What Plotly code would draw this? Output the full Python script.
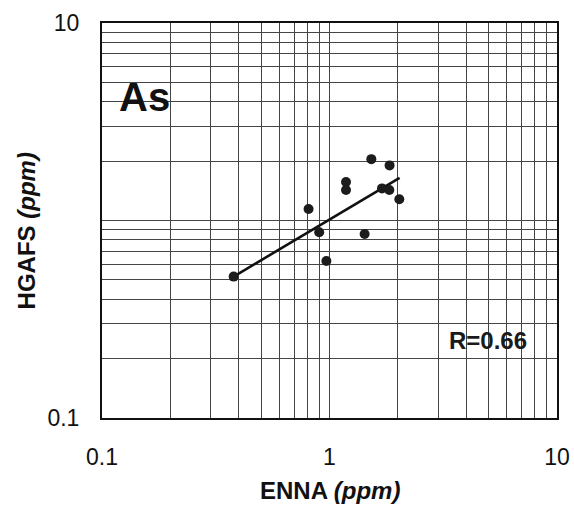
import plotly.graph_objects as go

# Arsenic: ENNA vs HGAFS concentrations (ppm)
enna = [0.379, 0.809, 0.901, 0.969, 1.182, 1.182, 1.427, 1.527, 1.837, 1.701, 1.832, 2.027]
hgafs = [0.520, 1.143, 0.872, 0.624, 1.566, 1.427, 0.855, 2.045, 1.901, 1.454, 1.427, 1.280]

# Regression line end points
fit_x = [0.379, 2.033]
fit_y = [0.520, 1.645]

element = "As"
r_label = "R=0.66"
x_title = "<b>ENNA <i>(ppm)</i></b>"
y_title = "<b>HGAFS <i>(ppm)</i></b>"

# Log grid: 1..9 in each decade
grid_vals = [m * 10 ** e for e in (-1, 0) for m in range(1, 10)] + [10]
x_labels = {0.1: "0.1", 1: "1", 10: "10"}
y_labels = {0.1: "0.1", 10: "10"}
x_text = [x_labels.get(v, "") for v in grid_vals]
y_text = [y_labels.get(v, "") for v in grid_vals]

FONT = "Liberation Sans, Arial, sans-serif"
GRID = "#454545"
INK = "#111111"

fig = go.Figure()
fig.add_trace(go.Scatter(
    x=fit_x, y=fit_y, mode="lines",
    line=dict(color=INK, width=2.6),
    hoverinfo="skip", showlegend=False,
))
fig.add_trace(go.Scatter(
    x=enna, y=hgafs, mode="markers",
    marker=dict(size=10, color="#1c1c1c", line=dict(width=0)),
    showlegend=False,
))

axis_common = dict(
    type="log",
    range=[-1, 1],
    tickmode="array",
    tickvals=grid_vals,
    showgrid=True,
    gridcolor=GRID,
    gridwidth=1.3,
    zeroline=False,
    showline=True,
    linecolor=INK,
    linewidth=2,
    mirror=True,
    ticks="",
    automargin=False,
    tickfont=dict(family=FONT, size=23, color=INK),
)

fig.update_xaxes(**axis_common, ticktext=x_text, ticklabelstandoff=17)
fig.update_yaxes(**axis_common, ticktext=y_text, ticklabelstandoff=16)

# Axis titles
fig.add_annotation(
    text=x_title, xref="paper", yref="paper", x=0.502, y=-0.184,
    xanchor="center", yanchor="middle", showarrow=False,
    font=dict(family=FONT, size=24, color=INK),
)
fig.add_annotation(
    text=y_title, xref="paper", yref="paper", x=-0.166, y=0.4735,
    xanchor="center", yanchor="middle", textangle=-90, showarrow=False,
    font=dict(family=FONT, size=24, color=INK),
)

# Panel label and correlation coefficient
fig.add_annotation(
    text="<b>" + element + "</b>", xref="paper", yref="paper",
    x=0.093, y=0.812, xanchor="center", yanchor="middle", showarrow=False,
    font=dict(family=FONT, size=40, color=INK),
)
fig.add_annotation(
    text="<b>" + r_label + "</b>", xref="paper", yref="paper",
    x=0.849, y=0.195, xanchor="center", yanchor="middle", showarrow=False,
    font=dict(family=FONT, size=24, color="#1a1a1a"),
)

fig.update_layout(
    width=574, height=506,
    margin=dict(l=102, r=17, t=23, b=88),
    paper_bgcolor="white",
    plot_bgcolor="white",
    showlegend=False,
)

fig.write_html("out.html")
